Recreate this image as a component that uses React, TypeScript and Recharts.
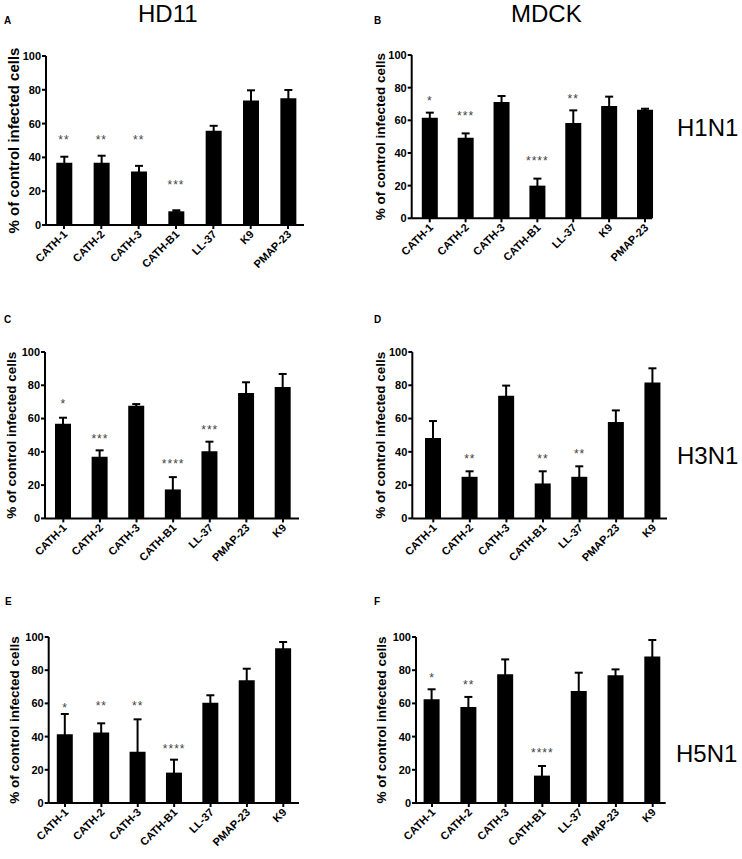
import React from "react";
import { Bar, ComposedChart, ErrorBar, Line, XAxis, YAxis } from "recharts";

const FONT = '"Liberation Sans", Arial, Helvetica, sans-serif';

// peptide order differs between the rows
const catsTop = ["CATH-1", "CATH-2", "CATH-3", "CATH-B1", "LL-37", "K9", "PMAP-23"];
const catsLower = ["CATH-1", "CATH-2", "CATH-3", "CATH-B1", "LL-37", "PMAP-23", "K9"];
const yTicks = [0, 20, 40, 60, 80, 100];

// A: HD11 / H1N1
const hd11H1N1 = [36.8, 36.8, 31.7, 8.1, 55.7, 73.6, 75];
const hd11H1N1Err = [3.6, 4.2, 3.3, 0.6, 3, 6.1, 4.9];
const hd11H1N1Sig = ["**", "**", "**", "***", "", "", ""];
const hd11H1N1SigAt = [51.8, 51.8, 52.2, 25.6, null, null, null];

// B: MDCK / H1N1
const mdckH1N1 = [61.6, 49.4, 71.2, 20, 58.4, 68.8, 66.5];
const mdckH1N1Err = [3.1, 2.6, 3.7, 4.3, 7.7, 5.7, 0.6];
const mdckH1N1Sig = ["*", "***", "", "****", "**", "", ""];
const mdckH1N1SigAt = [73.5, 64.7, null, 36.7, 75, null, null];

// C: HD11 / H3N1
const hd11H3N1 = [56.9, 37.1, 67.7, 17.4, 40.3, 75.4, 79];
const hd11H3N1Err = [3.6, 3.8, 1, 7.4, 5.8, 6.4, 7.8];
const hd11H3N1Sig = ["*", "***", "", "****", "***", "", ""];
const hd11H3N1SigAt = [70.3, 49.3, null, 34.7, 55.1, null, null];

// D: MDCK / H3N1
const mdckH3N1 = [48.3, 25, 73.7, 21, 25, 57.9, 81.6];
const mdckH3N1Err = [10.2, 3.3, 6.1, 7.3, 6.3, 7, 8.6];
const mdckH3N1Sig = ["", "**", "", "**", "**", "", ""];
const mdckH3N1SigAt = [null, 37.7, null, 37.3, 40.3, null, null];

// E: HD11 / H5N1
const hd11H5N1 = [41.4, 42.4, 30.9, 18.3, 60.4, 73.9, 93.2];
const hd11H5N1Err = [12.2, 5.6, 19.5, 7.8, 4.5, 7, 3.8];
const hd11H5N1Sig = ["*", "**", "**", "****", "", "", ""];
const hd11H5N1SigAt = [58.8, 60.2, 60.2, 34.5, null, null, null];

// F: MDCK / H5N1
const mdckH5N1 = [62.5, 57.8, 77.5, 16.5, 67.5, 76.9, 88.2];
const mdckH5N1Err = [6, 6.1, 9, 5.8, 11, 3.6, 10];
const mdckH5N1Sig = ["*", "**", "", "****", "", "", ""];
const mdckH5N1SigAt = [77, 72.9, null, 31.7, null, null, null];

const XTick = (props: any) => {
  const { x, y, payload } = props;
  return (
    <g transform={`translate(${x + 4},${y + 4})`}>
      <text
        x={0}
        y={0}
        textAnchor="end"
        transform="rotate(-45)"
        fontSize={11}
        fontWeight="bold"
        fontFamily={FONT}
        fill="#000"
      >
        {payload.value}
      </text>
    </g>
  );
};

const renderStar = (props: any) => {
  const { cx, cy, payload, index } = props;
  if (!payload || !payload.sig || cy == null || isNaN(cy)) return <g key={`s-${index}`} />;
  return (
    <text
      key={`s-${index}`}
      x={cx}
      y={cy + 7}
      textAnchor="middle"
      fontSize={12}
      letterSpacing={1}
      fill="#444"
      fontFamily={FONT}
    >
      {payload.sig}
    </text>
  );
};

interface PanelProps {
  cats: string[];
  vals: number[];
  errs: number[];
  sig: string[];
  sigAt: (number | null)[];
  panelX: number;
  axisLeft: number;
  axisRight: number;
  plotTop: number;
  plotBottom: number;
  bandStart: number;
  bandEnd: number;
  labelX: number;
  labelSize: number;
}

const Panel: React.FC<PanelProps> = (p) => {
  const data = p.cats.map((name, i) => ({
    name,
    value: p.vals[i],
    err: p.errs[i],
    sig: p.sig[i],
    sigAt: p.sigAt[i],
  }));
  const top = p.plotTop - 10;
  const plotH = p.plotBottom - p.plotTop;
  const width = p.axisRight - p.panelX + 14;
  const height = 10 + plotH + 70;
  const lx = p.labelX - p.panelX;
  const ly = 10 + plotH / 2;

  return (
    <div style={{ position: "absolute", left: p.panelX, top }}>
      <ComposedChart
        width={width}
        height={height}
        data={data}
        margin={{ top: 10, right: 14, bottom: 0, left: 0 }}
      >
        <XAxis
          dataKey="name"
          height={70}
          interval={0}
          padding={{ left: p.bandStart - p.axisLeft, right: p.axisRight - p.bandEnd }}
          axisLine={{ stroke: "#000", strokeWidth: 2 }}
          tickLine={{ stroke: "#000", strokeWidth: 2 }}
          tickSize={4}
          tick={<XTick />}
        />
        <YAxis
          width={p.axisLeft - p.panelX}
          domain={[0, 100]}
          ticks={yTicks}
          interval={0}
          axisLine={{ stroke: "#000", strokeWidth: 2 }}
          tickLine={{ stroke: "#000", strokeWidth: 2 }}
          tickSize={4}
          tickMargin={1}
          tick={{ fontSize: 11, fontWeight: "bold", fill: "#000", fontFamily: FONT }}
          label={() => (
            <text
              x={lx}
              y={ly}
              transform={`rotate(-90, ${lx}, ${ly})`}
              textAnchor="middle"
              dominantBaseline="central"
              fontSize={p.labelSize}
              fontWeight="bold"
              fontFamily={FONT}
              fill="#000"
            >
              % of control infected cells
            </text>
          )}
        />
        <Bar dataKey="value" fill="#000" barSize={16} isAnimationActive={false}>
          <ErrorBar dataKey="err" width={4} strokeWidth={2} stroke="#000" isAnimationActive={false} />
        </Bar>
        <Line
          dataKey="sigAt"
          stroke="none"
          dot={renderStar}
          activeDot={false}
          legendType="none"
          isAnimationActive={false}
        />
      </ComposedChart>
    </div>
  );
};

const App = () => {
  return (
    <div
      style={{
        position: "absolute",
        left: 0,
        top: 0,
        width: 742,
        height: 859,
        background: "#fff",
        fontFamily: FONT,
      }}
    >
      <svg width={742} height={859} style={{ position: "absolute", left: 0, top: 0 }}>
        <g fontFamily={FONT} fill="#000">
          <text x={138} y={22} fontSize={24}>HD11</text>
          <text x={511} y={22} fontSize={24}>MDCK</text>
          <text x={677} y={136} fontSize={24}>H1N1</text>
          <text x={677} y={464} fontSize={24}>H3N1</text>
          <text x={676} y={762} fontSize={24}>H5N1</text>
          <g fontSize={10} fontWeight="bold">
            <text x={4} y={24}>A</text>
            <text x={374} y={24}>B</text>
            <text x={4} y={323}>C</text>
            <text x={374} y={323}>D</text>
            <text x={5} y={605}>E</text>
            <text x={374} y={605}>F</text>
          </g>
        </g>
      </svg>

      <Panel cats={catsTop} vals={hd11H1N1} errs={hd11H1N1Err} sig={hd11H1N1Sig} sigAt={hd11H1N1SigAt}
        panelX={0} axisLeft={46} axisRight={304} plotTop={56} plotBottom={225}
        bandStart={45.3} bandEnd={306.7} labelX={13} labelSize={15} />
      <Panel cats={catsTop} vals={mdckH1N1} errs={mdckH1N1Err} sig={mdckH1N1Sig} sigAt={mdckH1N1SigAt}
        panelX={371} axisLeft={411.7} axisRight={652} plotTop={55} plotBottom={218.3}
        bandStart={411.8} bandEnd={662.9} labelX={381} labelSize={13.5} />
      <Panel cats={catsLower} vals={hd11H3N1} errs={hd11H3N1Err} sig={hd11H3N1Sig} sigAt={hd11H3N1SigAt}
        panelX={0} axisLeft={45} axisRight={299} plotTop={352.3} plotBottom={518.7}
        bandStart={45} bandEnd={301.3} labelX={12} labelSize={13.5} />
      <Panel cats={catsLower} vals={mdckH3N1} errs={mdckH3N1Err} sig={mdckH3N1Sig} sigAt={mdckH3N1SigAt}
        panelX={371} axisLeft={412.3} axisRight={667} plotTop={352.3} plotBottom={518.7}
        bandStart={415} bandEnd={671} labelX={381} labelSize={13.5} />
      <Panel cats={catsLower} vals={hd11H5N1} errs={hd11H5N1Err} sig={hd11H5N1Sig} sigAt={hd11H5N1SigAt}
        panelX={0} axisLeft={48.7} axisRight={299} plotTop={636.7} plotBottom={802.7}
        bandStart={46.8} bandEnd={301.5} labelX={14} labelSize={13.5} />
      <Panel cats={catsLower} vals={mdckH5N1} errs={mdckH5N1Err} sig={mdckH5N1Sig} sigAt={mdckH5N1SigAt}
        panelX={371} axisLeft={416} axisRight={665.7} plotTop={636.7} plotBottom={802.7}
        bandStart={413.6} bandEnd={671.1} labelX={382} labelSize={13.5} />
    </div>
  );
};

export default App;
